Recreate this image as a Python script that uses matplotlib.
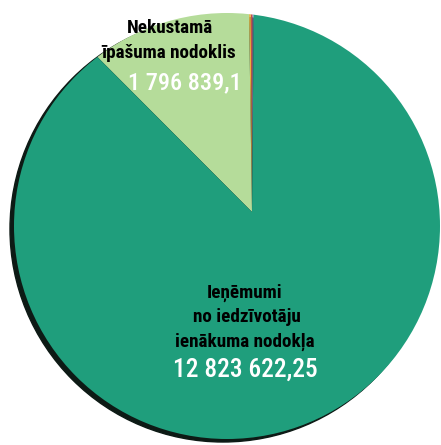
import matplotlib
matplotlib.use("Agg")
import matplotlib.pyplot as plt
from matplotlib.patches import Circle

# Data
labels = ["Ieņēmumi no iedzīvotāju ienākuma nodokļa",
          "Nekustamā īpašuma nodoklis",
          "Citi 1", "Citi 2", "Citi 3"]
values = [12823622.25, 1796839.1, 20000, 20000, 15000]
value_labels = ["12 823 622,25", "1 796 839,1"]
colors = ["#1f9e7c", "#b5dc9a", "#e9b23c", "#c0504d", "#6f87c0"]
# order drawn counter-clockwise from the top
order = [4, 3, 2, 1, 0]

FONT = ["Roboto Condensed", "DejaVu Sans"]

W, H = 441, 445
fig = plt.figure(figsize=(W / 100, H / 100), dpi=100)
ax = fig.add_axes([0, 0, 1, 1])

disk_c = (227, H - 226)
disk_r = 213
apex = (252, H - 212)

# dark rim / side of the disc
ax.add_patch(Circle((disk_c[0] - 4, disk_c[1] - 3), disk_r, color="#0d1a15", zorder=0))
clip = Circle(disk_c, disk_r, transform=ax.transData)

wedges, _ = ax.pie([values[i] for i in order],
                   colors=[colors[i] for i in order],
                   startangle=89.5, counterclock=True,
                   center=apex, radius=330,
                   wedgeprops=dict(linewidth=0))
for w in wedges:
    w.set_clip_on(True)
    w.set_clip_path(clip)
    w.set_zorder(1)

ax.set_xlim(0, W)
ax.set_ylim(0, H)
ax.set_aspect("equal")
ax.axis("off")

def t(x, y, s, size, color, weight):
    ax.text(x, H - y, s, ha="center", va="baseline", fontsize=size,
            color=color, fontweight=weight, family=FONT, zorder=5)

t(169.7, 33.3, "Nekustamā", 13.8, "black", "bold")
t(168.4, 58.3, "īpašuma nodoklis", 13.8, "black", "bold")
t(185, 89, value_labels[1], 17.5, "white", "medium")

t(245, 297.3, "Ieņēmumi", 13.8, "black", "bold")
t(246.7, 321.7, "no iedzīvotāju", 13.8, "black", "bold")
t(244.5, 346.7, "ienākuma nodokļa", 13.8, "black", "bold")
t(245, 376.7, value_labels[0], 18.3, "white", "medium")

fig.savefig("out.png", dpi=100)
